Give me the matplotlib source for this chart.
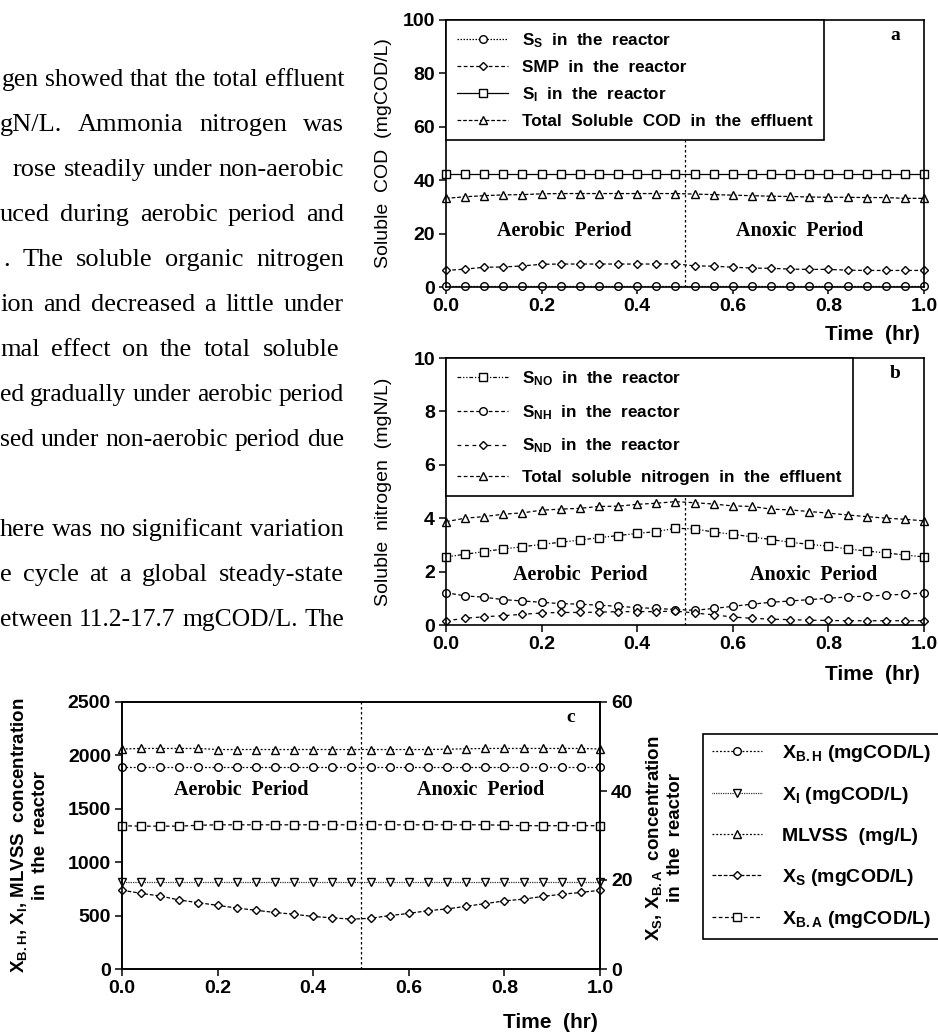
import matplotlib
matplotlib.use('Agg')
import matplotlib.pyplot as plt

plt.rcParams['font.family'] = 'Liberation Sans'
plt.rcParams['font.weight'] = 'bold'
plt.rcParams['mathtext.fontset'] = 'custom'
plt.rcParams['mathtext.rm'] = 'Liberation Sans:bold'
plt.rcParams['mathtext.it'] = 'Liberation Sans:bold'
plt.rcParams['mathtext.bf'] = 'Liberation Sans:bold'

# time axis (hr), one cycle
time_hr = [0.00, 0.04, 0.08, 0.12, 0.16, 0.20, 0.24, 0.28, 0.32, 0.36, 0.40, 0.44, 0.48,
           0.52, 0.56, 0.60, 0.64, 0.68, 0.72, 0.76, 0.80, 0.84, 0.88, 0.92, 0.96, 1.00]

# panel a - soluble COD (mgCOD/L)
s_s = [0.3, 0.3, 0.3, 0.3, 0.3, 0.3, 0.3, 0.3, 0.3, 0.3, 0.3, 0.3, 0.3,
       0.3, 0.3, 0.3, 0.3, 0.3, 0.3, 0.3, 0.3, 0.3, 0.3, 0.3, 0.3, 0.3]
smp = [6.2, 6.7, 7.4, 7.5, 7.9, 8.5, 8.6, 8.6, 8.6, 8.6, 8.6, 8.6, 8.7,
       7.9, 7.8, 7.4, 7.1, 7.0, 6.7, 6.6, 6.6, 6.3, 6.2, 6.2, 6.2, 6.2]
s_i = [42.5, 42.5, 42.5, 42.5, 42.5, 42.5, 42.5, 42.5, 42.5, 42.5, 42.5, 42.5, 42.5,
       42.5, 42.5, 42.5, 42.5, 42.5, 42.5, 42.5, 42.5, 42.5, 42.5, 42.5, 42.5, 42.5]
cod_eff = [33.2, 33.8, 34.2, 34.5, 34.6, 34.9, 35.0, 35.0, 35.0, 35.0, 35.0, 35.0, 35.0,
           34.8, 34.6, 34.4, 34.2, 34.0, 33.9, 33.7, 33.6, 33.6, 33.5, 33.5, 33.2, 33.2]

# panel b - soluble nitrogen (mgN/L)
s_no = [2.55, 2.65, 2.75, 2.85, 2.93, 3.02, 3.10, 3.18, 3.27, 3.35, 3.43, 3.50, 3.62,
        3.60, 3.48, 3.40, 3.30, 3.20, 3.10, 3.02, 2.95, 2.85, 2.77, 2.70, 2.62, 2.55]
s_nh = [1.21, 1.09, 1.04, 0.95, 0.90, 0.85, 0.80, 0.78, 0.74, 0.70, 0.65, 0.62, 0.58,
        0.55, 0.62, 0.70, 0.78, 0.85, 0.90, 0.95, 1.00, 1.05, 1.08, 1.12, 1.15, 1.20]
s_nd = [0.16, 0.25, 0.31, 0.35, 0.40, 0.45, 0.47, 0.47, 0.48, 0.50, 0.50, 0.50, 0.52,
        0.45, 0.38, 0.30, 0.25, 0.22, 0.20, 0.18, 0.17, 0.16, 0.16, 0.16, 0.16, 0.16]
n_eff = [3.87, 4.00, 4.06, 4.15, 4.20, 4.30, 4.34, 4.37, 4.44, 4.45, 4.52, 4.56, 4.62,
         4.58, 4.53, 4.46, 4.44, 4.34, 4.31, 4.25, 4.19, 4.12, 4.06, 4.00, 3.96, 3.90]

# panel c - particulates, left axis
x_bh = [1895, 1895, 1895, 1895, 1895, 1895, 1895, 1895, 1895, 1895, 1895, 1895, 1895,
        1895, 1895, 1895, 1895, 1895, 1895, 1895, 1895, 1895, 1895, 1895, 1895, 1895]
x_i = [810, 810, 810, 810, 810, 810, 810, 810, 810, 810, 810, 810, 810,
       810, 810, 810, 810, 810, 810, 810, 810, 810, 810, 810, 810, 810]
mlvss = [2060, 2065, 2065, 2065, 2065, 2055, 2055, 2055, 2055, 2055, 2055, 2055, 2055,
         2055, 2055, 2055, 2055, 2058, 2062, 2065, 2065, 2065, 2065, 2065, 2065, 2060]
# panel c - right axis
x_s = [17.7, 17.0, 16.4, 15.5, 14.9, 14.3, 13.7, 13.2, 12.7, 12.3, 11.8, 11.5, 11.2,
       11.4, 12.0, 12.5, 13.1, 13.5, 14.1, 14.7, 15.3, 15.7, 16.3, 16.8, 17.2, 17.7]
x_ba = [32.2, 32.1, 32.1, 32.1, 32.3, 32.4, 32.4, 32.4, 32.4, 32.4, 32.4, 32.4, 32.4,
        32.4, 32.4, 32.4, 32.4, 32.4, 32.4, 32.4, 32.3, 32.2, 32.2, 32.2, 32.2, 32.2]

xticks = [0.0, 0.2, 0.4, 0.6, 0.8, 1.0]
xtick_labels = ['0.0', '0.2', '0.4', '0.6', '0.8', '1.0']

# text beside the chart (cut from a page): (y, left, right, text) in pixels
para_lines = [
    (80, 2, 344, 'gen showed that the total effluent'),
    (125, 0, 344, 'gN/L. Ammonia nitrogen was'),
    (170, 13, 344, 'rose steadily under non-aerobic'),
    (215, 0, 344, 'uced during aerobic period and'),
    (260, 3, 344, '. The soluble organic nitrogen'),
    (305, 0, 344, 'ion and decreased a little under'),
    (350, 0, 339, 'mal effect on the total soluble'),
    (395, 0, 344, 'ed gradually under aerobic period'),
    (440, 0, 344, 'sed under non-aerobic period due'),
    (530, 0, 344, 'here was no significant variation'),
    (575, 0, 344, 'e cycle at a global steady-state'),
    (620, 0, 344, 'etween 11.2-17.7 mgCOD/L. The'),
]

W, H = 938, 1034
fig = plt.figure(figsize=(W / 100, H / 100), dpi=100)


def rect(l, t, r, b):
    return [l / W, 1 - b / H, (r - l) / W, (b - t) / H]


def style_axes(ax):
    for sp in ax.spines.values():
        sp.set_linewidth(1.2)
    ax.tick_params(labelsize=14, length=5, width=1.1, pad=3)
    ax.set_xlim(0, 1)
    ax.set_xticks(xticks)
    ax.set_xticklabels(xtick_labels)


mk = dict(mfc='white', mec='black', mew=1.0, ms=5.5, color='black', lw=0.9, clip_on=False)
leg_font = {'family': 'Liberation Sans', 'weight': 'bold', 'size': 12.3}
serif_b = dict(fontfamily='Liberation Serif', fontweight='bold')

# ---------- panel a ----------
ax_a = fig.add_axes(rect(446, 20, 924, 287))
style_axes(ax_a)
ax_a.set_ylim(0, 100)
ax_a.set_yticks([0, 20, 40, 60, 80, 100])
ax_a.axvline(0.5, color='black', ls=(0, (2, 2)), lw=0.9, zorder=1)
a1, = ax_a.plot(time_hr, s_s, ls=(0, (1.2, 1.2)), marker='o', label='S$_S$  in  the  reactor', **mk)
a2, = ax_a.plot(time_hr, smp, ls=(0, (3, 2)), marker='D', label='SMP  in  the  reactor', **dict(mk, ms=4.5))
a3, = ax_a.plot(time_hr, s_i, ls='-', marker='s', label='S$_I$  in  the  reactor', **mk)
a4, = ax_a.plot(time_hr, cod_eff, ls=(0, (3, 1.5)), marker='^', label='Total  Soluble  COD  in  the  effluent', **mk)
leg_a = ax_a.legend(handles=[a1, a2, a3, a4], loc='upper left', bbox_to_anchor=(0, 1), borderaxespad=0,
                    fancybox=False, edgecolor='black', framealpha=1, prop=leg_font,
                    handlelength=3.0, handletextpad=0.8, borderpad=0.65, labelspacing=0.6)
leg_a.get_frame().set_linewidth(1.2)
leg_a.set_zorder(5)
ax_a.set_ylabel('Soluble  COD  (mgCOD/L)', fontsize=14)
ax_a.yaxis.set_label_coords((392 - 446) / 478, 0.5)
ax_a.text(0.247, 21, 'Aerobic  Period', fontsize=14.5, ha='center', va='center', **serif_b)
ax_a.text(0.74, 21, 'Anoxic  Period', fontsize=14.5, ha='center', va='center', **serif_b)
fig.text(895 / W, 1 - 35 / H, 'a', fontsize=14, ha='center', va='center', **serif_b)
fig.text(872 / W, 1 - 334 / H, 'Time  (hr)', fontsize=15, ha='center', va='center')

# ---------- panel b ----------
ax_b = fig.add_axes(rect(446, 358, 924, 625))
style_axes(ax_b)
ax_b.set_ylim(0, 10)
ax_b.set_yticks([0, 2, 4, 6, 8, 10])
ax_b.axvline(0.5, color='black', ls=(0, (2, 2)), lw=0.9, zorder=1)
b1, = ax_b.plot(time_hr, s_no, ls=(0, (3, 1.5, 1, 1.5, 1, 1.5)), marker='s', label='S$_{NO}$  in  the  reactor', **mk)
b2, = ax_b.plot(time_hr, s_nh, ls=(0, (3, 2)), marker='o', label='S$_{NH}$  in  the  reactor', **mk)
b3, = ax_b.plot(time_hr, s_nd, ls=(0, (3, 3)), marker='D', label='S$_{ND}$  in  the  reactor', **dict(mk, ms=4.5))
b4, = ax_b.plot(time_hr, n_eff, ls=(0, (3, 2)), marker='^', label='Total  soluble  nitrogen  in  the  effluent', **mk)
leg_b = ax_b.legend(handles=[b1, b2, b3, b4], loc='upper left', bbox_to_anchor=(0, 1), borderaxespad=0,
                    fancybox=False, edgecolor='black', framealpha=1, prop=leg_font,
                    handlelength=3.0, handletextpad=0.8, borderpad=0.65, labelspacing=0.88)
leg_b.get_frame().set_linewidth(1.2)
leg_b.set_zorder(5)
ax_b.set_ylabel('Soluble  nitrogen  (mgN/L)', fontsize=14)
ax_b.yaxis.set_label_coords((392 - 446) / 478, 0.5)
ax_b.text(0.28, 1.87, 'Aerobic  Period', fontsize=14.5, ha='center', va='center', **serif_b)
ax_b.text(0.77, 1.87, 'Anoxic  Period', fontsize=14.5, ha='center', va='center', **serif_b)
fig.text(895 / W, 1 - 373 / H, 'b', fontsize=14, ha='center', va='center', **serif_b)
fig.text(872 / W, 1 - 675 / H, 'Time  (hr)', fontsize=15, ha='center', va='center')

# ---------- panel c ----------
ax_c = fig.add_axes(rect(122, 702, 600, 969))
style_axes(ax_c)
ax_c.set_ylim(0, 2500)
ax_c.set_yticks([0, 500, 1000, 1500, 2000, 2500])
ax_c2 = ax_c.twinx()
for sp in ax_c2.spines.values():
    sp.set_linewidth(1.2)
ax_c2.set_ylim(0, 60)
ax_c2.set_yticks([0, 20, 40, 60])
ax_c2.tick_params(labelsize=14, length=5, width=1.1, pad=3)
ax_c.axvline(0.5, color='black', ls=(0, (2, 2)), lw=0.9, zorder=1)
c1, = ax_c.plot(time_hr, x_bh, ls=(0, (1.5, 1.5)), marker='o', label='X$_{B.H}$ (mgCOD/L)', **mk)
c2, = ax_c.plot(time_hr, x_i, ls=(0, (0.6, 0.8)), marker='v', label='X$_I$ (mgCOD/L)', **mk)
c3, = ax_c.plot(time_hr, mlvss, ls=(0, (1.5, 1.5)), marker='^', label='MLVSS  (mg/L)', **mk)
c4, = ax_c2.plot(time_hr, x_s, ls=(0, (3, 1.5)), marker='D', label='X$_S$ (mgCOD/L)', **dict(mk, ms=4.5))
c5, = ax_c2.plot(time_hr, x_ba, ls=(0, (3, 2)), marker='s', label='X$_{B.A}$ (mgCOD/L)', **mk)
ax_c.text(0.249, 1676, 'Aerobic  Period', fontsize=14.5, ha='center', va='center', **serif_b)
ax_c.text(0.751, 1676, 'Anoxic  Period', fontsize=14.5, ha='center', va='center', **serif_b)
fig.text(571 / W, 1 - 718 / H, 'c', fontsize=14, ha='center', va='center', **serif_b)
fig.text(550 / W, 1 - 1023 / H, 'Time  (hr)', fontsize=15, ha='center', va='center')
fig.text(29 / W, 1 - 835 / H, 'X$_{B.H}$, X$_I$, MLVSS  concentration\nin  the  reactor', rotation=90,
         fontsize=13.5, ha='center', va='center', multialignment='center', linespacing=1.2)
fig.text(664 / W, 1 - 838 / H, 'X$_S$, X$_{B.A}$  concentration\nin  the  reactor', rotation=90,
         fontsize=13.5, ha='center', va='center', multialignment='center', linespacing=1.2)
leg_c = fig.legend(handles=[c1, c2, c3, c4, c5], loc='upper left', bbox_to_anchor=(703 / W, 1 - 734 / H),
                   borderaxespad=0, fancybox=False, edgecolor='black', framealpha=1,
                   prop={'family': 'Liberation Sans', 'weight': 'bold', 'size': 14},
                   handlelength=2.6, handletextpad=1.0, borderpad=0.45, labelspacing=1.1)
leg_c.get_frame().set_linewidth(1.2)

# ---------- paragraph text, justified between left and right ----------
renderer = fig.canvas.get_renderer()
para_size = 19
for y_px, left_px, right_px, line in para_lines:
    words = line.split(' ')
    size = para_size
    texts = [fig.text(0, 1 - (y_px + 6) / H, w, fontsize=size, fontfamily='Liberation Serif',
                      fontweight='normal', va='baseline', ha='left') for w in words]
    widths = [t.get_window_extent(renderer=renderer).width for t in texts]
    space = 0.25 * size * 100 / 72
    natural = sum(widths) + space * (len(words) - 1)
    if natural > right_px - left_px:
        # shrink this line a little so it stays inside the page
        size = size * (right_px - left_px) / natural
        for t in texts:
            t.set_fontsize(size)
        widths = [t.get_window_extent(renderer=renderer).width for t in texts]
    gap = (right_px - left_px - sum(widths)) / (len(words) - 1)
    x = left_px
    for t, wd in zip(texts, widths):
        t.set_x(x / W)
        x += wd + gap

fig.savefig('out.png', dpi=100)
